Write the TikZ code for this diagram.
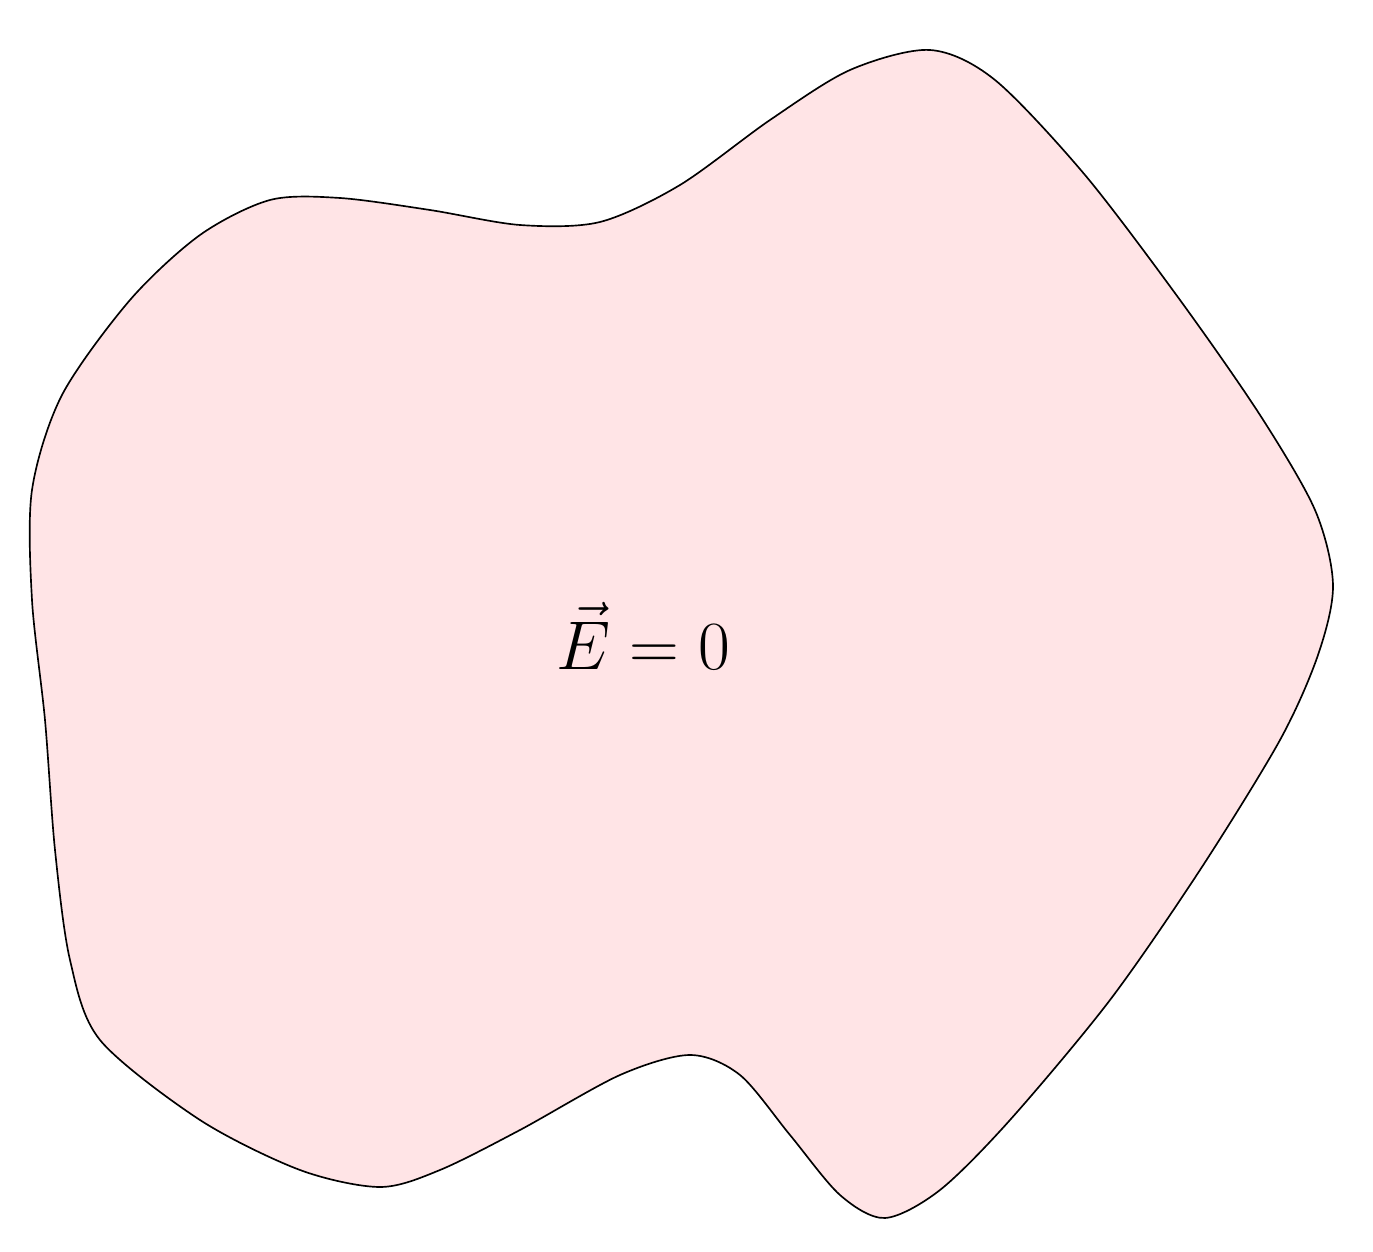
\documentclass[tikz,border=0pt]{standalone}
\usetikzlibrary{positioning}
\definecolor{Blush}{HTML}{FFE4E6}
\tikzset{
  conductor/.style={draw=black, line width=0.5pt, fill=Blush},
  fieldlabel/.style={font=\huge, inner sep=0pt}
}
\begin{document}
\begin{tikzpicture}[x=0.01056cm, y=-0.01056cm]
  \useasboundingbox (0,0) rectangle (1373,1252);
  % conductor outline
  \draw[conductor] plot[smooth cycle, tension=0.5] coordinates {
    (930,50) (995,80) (1085,175) (1180,300) (1260,415) (1315,510)
    (1333,585) (1318,655) (1280,740) (1200,870) (1110,1000) (1010,1120)
    (940,1190) (885,1218) (840,1195) (790,1135) (740,1075) (690,1055)
    (620,1075) (520,1130) (440,1170) (380,1187) (300,1170) (200,1120)
    (100,1040) (70,960) (55,850) (45,720) (32,600) (32,490)
    (62,395) (130,300) (200,235) (270,200) (340,198) (430,210)
    (520,225) (600,222) (680,185) (770,120) (850,70)
  };
  \node[fieldlabel] (field) at (643,636) {$\vec{E}=0$};
\end{tikzpicture}
\end{document}
